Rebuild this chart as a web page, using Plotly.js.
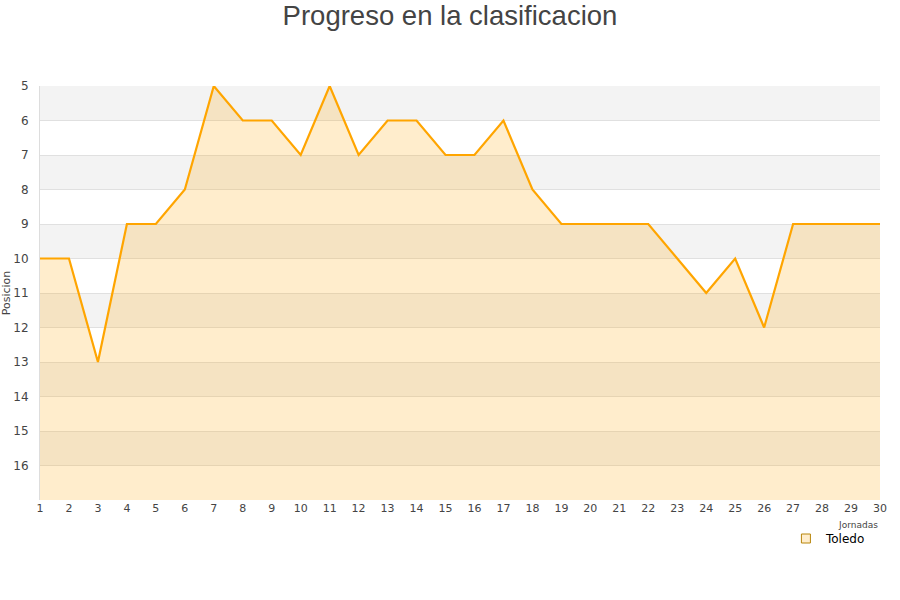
<!DOCTYPE html>
<html><head><meta charset="utf-8">
<script src="https://cdn.plot.ly/plotly-3.0.1.min.js"></script>
<style>body{margin:0;background:#fff}#chart{width:900px;height:600px}</style>
</head><body><div id="chart"></div>
<script>
const jornadas = [1,2,3,4,5,6,7,8,9,10,11,12,13,14,15,16,17,18,19,20,21,22,23,24,25,26,27,28,29,30];
const posicion = [10,10,13,9,9,8,5,6,6,7,5,7,6,6,7,7,6,8,9,9,9,9,10,11,10,12,9,9,9,9];
const equipo = "Toledo";
const yTicks = [5,6,7,8,9,10,11,12,13,14,15,16];
const yMin = 5, yMax = 17;

const baseline = jornadas.map(() => yMax);
const shapes = [];
for (let v = yMin; v < yMax; v += 2) {
  shapes.push({type:'rect', xref:'paper', yref:'y', x0:0, x1:1, y0:v, y1:v+1,
    fillcolor:'#f3f3f3', line:{width:0}, layer:'below'});
}

const traces = [
  {x: jornadas, y: baseline, mode:'lines', line:{width:0, color:'rgba(0,0,0,0)'},
   showlegend:false, hoverinfo:'skip'},
  {x: jornadas, y: posicion, name: equipo, mode:'lines', fill:'tonexty',
   fillcolor:'rgba(255,165,0,0.2)', line:{color:'#FFA500', width:2.2}, showlegend:false},
  {x: [null], y: [null], name: equipo, mode:'markers',
   marker:{symbol:'square', size:9, color:'#ffedcc', line:{color:'#b8860b', width:1}}}
];

const layout = {
  width:900, height:600,
  margin:{l:40, r:20, t:86, b:100},
  paper_bgcolor:'#fff', plot_bgcolor:'#fff',
  title:{text:'Progreso en la clasificacion', x:0.5, xanchor:'center', y:0.99, yanchor:'top',
    font:{family:'Liberation Sans, Arial, sans-serif', size:27.5, color:'#444'}},
  font:{family:'DejaVu Sans, sans-serif', size:11, color:'#444'},
  xaxis:{range:[1,30], tickvals:jornadas, showgrid:false, zeroline:false,
    showline:false, ticks:'', tickfont:{size:11, color:'#444'}},
  yaxis:{range:[yMax, yMin], tickvals:yTicks, showgrid:true, gridcolor:'#e0e0e0',
    zeroline:false, showline:true, linecolor:'#dddddd', linewidth:1, ticks:'',
    ticklabelstandoff:8, tickfont:{size:12, color:'#444'},
    title:{text:'Posicion', font:{size:11, color:'#444'}, standoff:2}},
  shapes: shapes,
  annotations:[{text:'Jornadas', xref:'paper', yref:'paper', x:1, y:-0.043, xanchor:'right',
    yanchor:'top', showarrow:false, font:{size:9, color:'#444'}}],
  legend:{x:0.888, xanchor:'left', y:-0.058, yanchor:'top', bgcolor:'rgba(255,255,255,0)',
    font:{size:12, color:'#000'}, itemwidth:30}
};
Plotly.newPlot('chart', traces, layout, {displayModeBar:false});
</script></body></html>
